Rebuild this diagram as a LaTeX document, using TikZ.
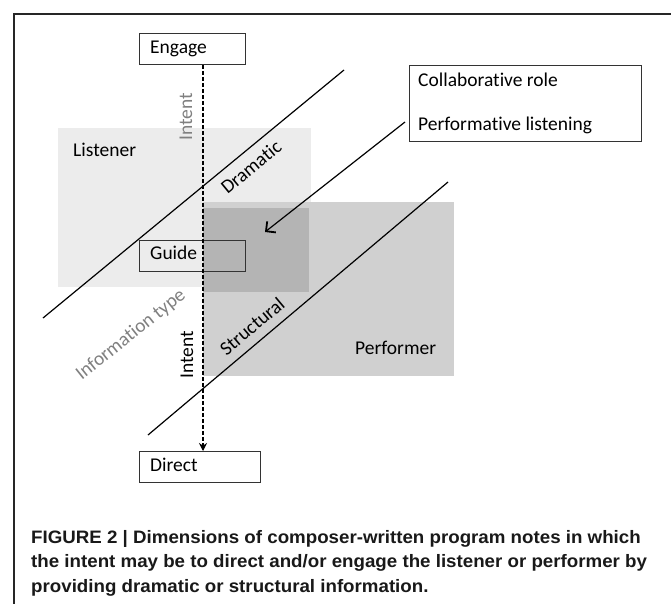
\documentclass[tikz,border=0pt]{standalone}
\usepackage{fontspec}
\setmainfont{Carlito}[Ligatures={NoCommon}]
\newfontfamily\capfont[FakeStretch=1.04]{Liberation Sans}
\usetikzlibrary{arrows.meta}
\definecolor{lisgray}{HTML}{ECECEC}
\definecolor{pergray}{HTML}{D0D0D0}
\definecolor{ovgray}{HTML}{B4B4B4}
\definecolor{txtgray}{HTML}{808080}
\begin{document}
\begin{tikzpicture}[x=1pt,y=-1pt,
  lbl/.style={font=\fontsize{19.5}{23}\selectfont, inner sep=0pt},
  boxst/.style={draw=black!80, line width=0.9pt, rectangle, inner sep=0pt, anchor=north west},
  diag/.style={line width=1.2pt, black},
  captxt/.style={font=\capfont\bfseries\fontsize{18}{21}\selectfont, text=black!90, inner sep=0pt, anchor=base west}
]
\useasboundingbox (0,0) rectangle (671,604);
\fill[white] (0,0) rectangle (671,604);
\draw[line width=1.1pt, black!85] (671,14) -- (14,14) -- (14,604);
% shaded regions
\fill[lisgray] (58,128) rectangle (311,287);
\fill[pergray] (203,202) rectangle (454,376);
\fill[ovgray] (203,208) rectangle (309,292);
% boxes
\node[boxst, fill=white, minimum width=106pt, minimum height=31pt] (engage) at (139,33) {};
\node[lbl, anchor=base west] (engaget) at (150,54) {Engage};
\node[boxst, minimum width=106pt, minimum height=31pt] (guide) at (139,240) {};
\node[lbl, anchor=base west] (guidet) at (150,259) {Guide};
\node[boxst, fill=white, minimum width=121pt, minimum height=31pt] (direct) at (139,451) {};
\node[lbl, anchor=base west] (directt) at (150,471) {Direct};
\node[boxst, fill=white, minimum width=232pt, minimum height=76pt] (collab) at (409,65) {};
\node[lbl, anchor=base west] (collabt) at (418,87) {Collaborative role};
\node[lbl, anchor=base west] (perft) at (418,131) {Performative listening};
% region labels
\node[lbl, anchor=base west] (listener) at (73,157) {Listener};
\node[lbl, anchor=base west] (performer) at (355,354) {Performer};
% intent axis
\coordinate (ax) at (203,0);
\draw[line width=1.1pt, dash pattern=on 4pt off 2pt, -{Stealth[length=8pt,width=8pt]}]
  (engage.south -| ax) -- (direct.north -| ax);
% diagonal lines
\coordinate (d1a) at (344,70);
\coordinate (d1b) at (43,318);
\coordinate (d3a) at (448,182);
\coordinate (d3b) at (148,435);
\coordinate (arrs) at (405,122);
\coordinate (arre) at (265,232);
\draw[diag] (d1a) -- (d1b);
\draw[diag] (d3a) -- (d3b);
\draw[diag, -{Straight Barb[length=7pt,width=14pt,line width=1.8pt]}] (arrs) -- (arre);
% rotated labels
\node[lbl, text=txtgray, rotate=90] (intent1) at (186,117) {Intent};
\node[lbl, rotate=90] (intent2) at (187,355) {Intent};
\node[lbl, rotate=39.5] (dramatic) at (251,167) {Dramatic};
\node[lbl, rotate=40] (structural) at (252,326) {Structural};
\node[lbl, text=txtgray, rotate=38.5] (infotype) at (131,335) {Information type};
% caption
\node[captxt] (cap1) at (31,543) {FIGURE 2 | Dimensions of composer-written program notes in which};
\node[captxt] (cap2) at (31,567) {the intent may be to direct and/or engage the listener or performer by};
\node[captxt] (cap3) at (31,592) {providing dramatic or structural information.};
\end{tikzpicture}
\end{document}
